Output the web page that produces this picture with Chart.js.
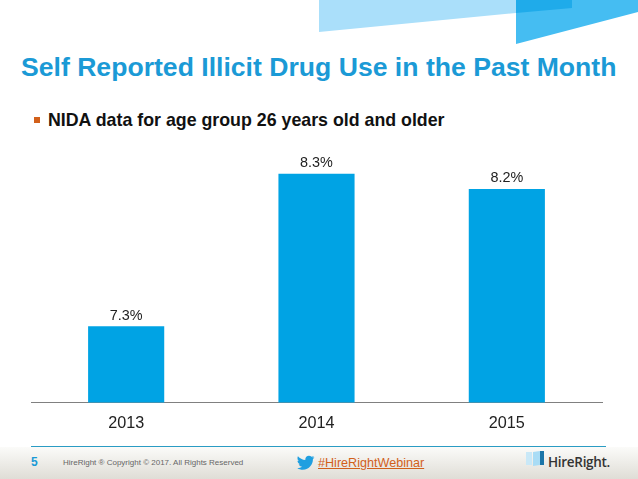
<!DOCTYPE html>
<html>
<head>
<meta charset="utf-8">
<script src="https://cdn.jsdelivr.net/npm/chart.js@4/dist/chart.umd.min.js"></script>
<style>
  html, body { margin: 0; padding: 0; background: #fff; }
  #slide { position: relative; width: 638px; height: 479px; overflow: hidden; font-family: "Liberation Sans", Arial, sans-serif; }
  #slide div, #slide svg { position: absolute; white-space: nowrap; }
  #chart-box { left: 0; top: 128px; width: 638px; height: 308px; }
  #title { left: 21px; top: 51px; font-size: 26.6px; font-weight: bold; color: #1b9ad6; line-height: 32px; }
  #bullet { left: 34px; top: 117px; width: 6px; height: 6px; background: #d2601a; }
  #subtitle { left: 48px; top: 109px; font-size: 17.8px; font-weight: bold; color: #111; line-height: 22px; }
  #footer { left: 0; top: 447px; width: 638px; height: 32px; background: linear-gradient(#fbfbf9, #dfddd6); }
  #rule { left: 31px; top: 446px; width: 575px; height: 1px; background: #2a9cc4; }
  #page { left: 31px; top: 455px; font-size: 12px; font-weight: bold; color: #1b9ad6; line-height: 14px; }
  #copy { left: 63px; top: 457px; font-size: 8px; color: #666; line-height: 12px; }
  #tag { left: 318px; top: 454px; font-size: 12.6px; color: #d2601a; text-decoration: underline; line-height: 18px; }
  #brand { left: 548px; top: 452px; font-size: 13.5px; color: #333; line-height: 20px; font-family: "Open Sans", sans-serif; font-weight: 600; letter-spacing: -0.3px; }
</style>
</head>
<body>
<div id="slide">
  <svg width="638" height="60" style="left:0;top:0">
    <polygon points="319,0 516,0 516,13 319,32" fill="#aadffa"/>
    <polygon points="516,0 638,0 638,12 516,44" fill="#45bdf2"/>
    <polygon points="516,0 572,0 572,8 516,13" fill="#1fabea"/>
  </svg>
  <div id="title">Self Reported Illicit Drug Use in the Past Month</div>
  <div id="bullet"></div>
  <div id="subtitle">NIDA data for age group 26 years old and older</div>
  <div id="chart-box"><canvas id="my-chart"></canvas></div>
  <div id="footer"></div>
  <div id="rule"></div>
  <div id="page">5</div>
  <div id="copy">HireRight ® Copyright © 2017. All Rights Reserved</div>
  <svg width="18" height="15" style="left:297px;top:455px" viewBox="0 0 26 21">
    <path d="M25 3c-1 .4-2 .7-3 .8 1-.6 1.900-1.600 2.300-2.800-1 .6-2.100 1-3.300 1.300C20 1.200 18.700.6 17.200.6c-2.900 0-5.200 2.300-5.200 5.200 0 .4 0 .8.100 1.200C7.800 6.800 4 4.700 1.400 1.600.9 2.400.7 3.300.7 4.200c0 1.800.9 3.400 2.300 4.300-.8 0-1.600-.3-2.300-.6 0 2.500 1.800 4.600 4.100 5.100-.8.200-1.600.2-2.300.1.700 2.100 2.600 3.600 4.900 3.600C5.100 18.300 2.800 19 .4 18.800 2.700 20.200 5.400 21 8.300 21c9.500 0 14.700-7.900 14.700-14.700v-.7C24 4.800 24.700 4 25 3z" fill="#1f9fe0"/>
  </svg>
  <div id="tag">#HireRightWebinar</div>
  <svg width="22" height="18" style="left:525px;top:450px">
    <polygon points="8,2 15,1 15,15 8,16" fill="#a9dcf5"/>
    <polygon points="1,2 7,2 7,15 1,15" fill="#c9e8f7"/>
    <rect x="15" y="1" width="4" height="14" fill="#1b75a8"/>
  </svg>
  <div id="brand">HireRight.</div>
</div>
<script>
var years = ["2013", "2014", "2015"];
var usePercent = [7.3, 8.3, 8.2];
var axisMin = 6.8;
var axisMax = 8.6;

// prints the value over each bar
var barLabels = {
  id: "barLabels",
  afterDatasetsDraw: function (chart) {
    var ctx = chart.ctx;
    var meta = chart.getDatasetMeta(0);
    ctx.save();
    ctx.fillStyle = "#222222";
    ctx.font = "14.4px 'Liberation Sans'";
    ctx.textAlign = "center";
    ctx.textBaseline = "bottom";
    meta.data.forEach(function (bar, i) {
      ctx.fillText(usePercent[i].toFixed(1) + "%", bar.x, bar.y - 3.5);
    });
    ctx.restore();
  },
};

var ctx = document.getElementById("my-chart").getContext("2d");
var myChart = new Chart(ctx, {
  type: "bar",
  data: {
    labels: years,
    datasets: [
      {
        data: usePercent,
        backgroundColor: "#00a3e4",
        categoryPercentage: 1,
        barPercentage: 0.4,
      },
    ],
  },
  options: {
    responsive: true,
    maintainAspectRatio: false,
    animation: false,
    layout: { padding: { left: 31, right: 36, top: 0, bottom: 0 } },
    plugins: { legend: { display: false }, tooltip: { enabled: false } },
    scales: {
      x: {
        grid: { display: false },
        border: { color: "#808080", width: 1 },
        ticks: { color: "#222222", font: { size: 16.2, family: "Liberation Sans" }, padding: 3 },
      },
      y: { display: false, min: axisMin, max: axisMax },
    },
  },
  plugins: [barLabels],
});
</script>
</body>
</html>
